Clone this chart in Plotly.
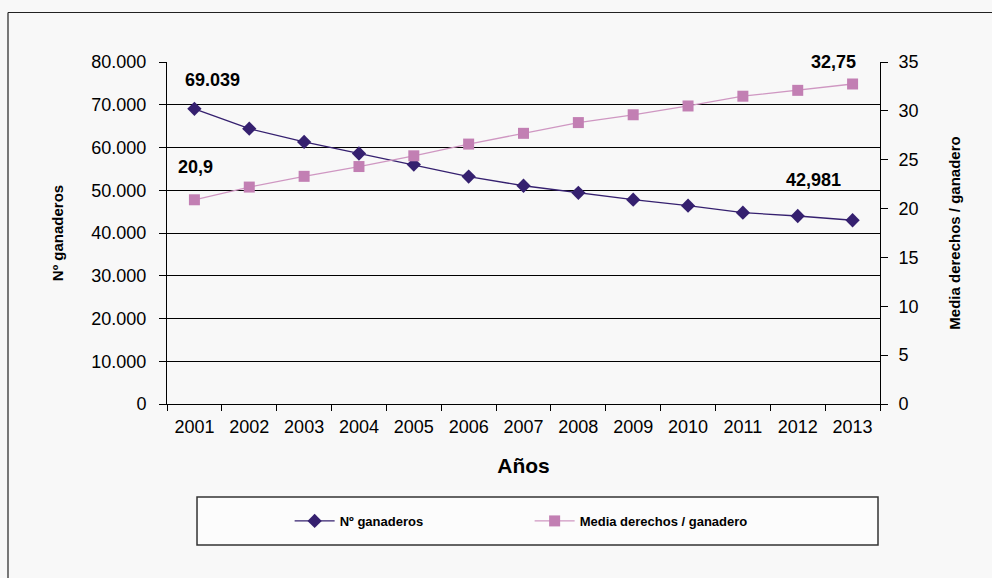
import plotly.graph_objects as go

years = ["2001", "2002", "2003", "2004", "2005", "2006", "2007", "2008", "2009", "2010", "2011", "2012", "2013"]
ganaderos = [69039, 64400, 61300, 58600, 56000, 53200, 51050, 49400, 47800, 46400, 44750, 43980, 42981]
media = [20.9, 22.2, 23.3, 24.3, 25.4, 26.6, 27.7, 28.8, 29.6, 30.5, 31.5, 32.1, 32.75]
left_ticks = [0, 10000, 20000, 30000, 40000, 50000, 60000, 70000, 80000]
right_ticks = [0, 5, 10, 15, 20, 25, 30, 35]

FONT = "Liberation Sans, Arial, sans-serif"
C1 = "#35206f"
C2 = "#c27fb3"
C2L = "#cf97c2"

fig = go.Figure()
fig.add_trace(go.Scatter(
    x=years, y=ganaderos, name="<b>Nº ganaderos</b>", mode="lines+markers",
    line=dict(color=C1, width=1.3), marker=dict(symbol="diamond", size=11, color=C1),
    yaxis="y"))
fig.add_trace(go.Scatter(
    x=years, y=media, name="<b>Media derechos / ganadero</b>", mode="lines+markers",
    line=dict(color=C2L, width=1.3), marker=dict(symbol="square", size=11, color=C2),
    yaxis="y2"))

ann_font = dict(family=FONT, size=18, color="black")
i0, i1 = 0, len(years) - 1
fig.add_annotation(x=i0, y=ganaderos[i0], text="<b>69.039</b>", showarrow=False,
                   xref="x", yref="y", xshift=18, yshift=29, font=ann_font)
fig.add_annotation(x=i0, y=media[i0], text="<b>20,9</b>", showarrow=False,
                   xref="x", yref="y2", xshift=1, yshift=33, font=ann_font)
fig.add_annotation(x=i1, y=media[i1], text="<b>32,75</b>", showarrow=False,
                   xref="x", yref="y2", xshift=-19, yshift=22, font=ann_font)
fig.add_annotation(x=i1, y=ganaderos[i1], text="<b>42,981</b>", showarrow=False,
                   xref="x", yref="y", xshift=-39, yshift=40, font=ann_font)

fig.update_layout(
    width=992, height=578,
    margin=dict(l=167, r=112, t=62, b=174),
    paper_bgcolor="#f8f8f8", plot_bgcolor="rgba(0,0,0,0)",
    separators=",.",
    font=dict(family=FONT, size=18, color="black"),
    showlegend=True,
    legend=dict(orientation="h", x=0.172, xanchor="left", y=-0.342, yanchor="middle",
                font=dict(family=FONT, size=13, color="black"), bgcolor="rgba(0,0,0,0)",
                entrywidth=185, itemwidth=40),
    xaxis=dict(type="category", range=[-0.5, 12.5], showline=True, linecolor="black", linewidth=1,
               ticks="outside", ticklen=6, tickcolor="black", tickson="boundaries",
               showgrid=False, mirror=False, tickfont=dict(size=18), ticklabelstandoff=6,
               title=dict(text="<b>Años</b>", font=dict(size=21), standoff=22)),
    yaxis=dict(range=[0, 80000], tickvals=left_ticks, tickformat=",", showline=True,
               linecolor="black", linewidth=1, ticks="outside", ticklen=7, tickcolor="black",
               showgrid=True, gridcolor="black", gridwidth=1, zeroline=False,
               tickfont=dict(size=18), ticklabelstandoff=9,
               title=dict(text="<b>Nº ganaderos</b>", font=dict(size=15), standoff=24)),
    yaxis2=dict(range=[0, 35], tickvals=right_ticks, overlaying="y", side="right",
                showline=True, linecolor="black", linewidth=1, ticks="outside", ticklen=7,
                tickcolor="black", showgrid=False, zeroline=False, tickfont=dict(size=18),
                ticklabelstandoff=7,
                title=dict(text="<b>Media derechos / ganadero</b>", font=dict(size=15), standoff=31)),
)

# legend frame
fig.add_shape(type="rect", xref="paper", yref="paper", x0=0.0421, x1=0.9972, y0=-0.4123, y1=-0.2719,
              line=dict(color="#333333", width=1.5), fillcolor="rgba(255,255,255,0.6)", layer="below")
# outer chart frame (top and left edges)
fig.add_shape(type="line", xref="paper", yref="paper", x0=-0.223, x1=1.2, y0=1.1447, y1=1.1447,
              line=dict(color="#222222", width=1.2))
fig.add_shape(type="line", xref="paper", yref="paper", x0=-0.223, x1=-0.223, y0=1.1447, y1=-0.6,
              line=dict(color="#222222", width=1.2))

fig.write_html("out.html", config={"displayModeBar": False},
               post_script="document.body.style.margin='0';document.body.style.overflow='hidden';")
